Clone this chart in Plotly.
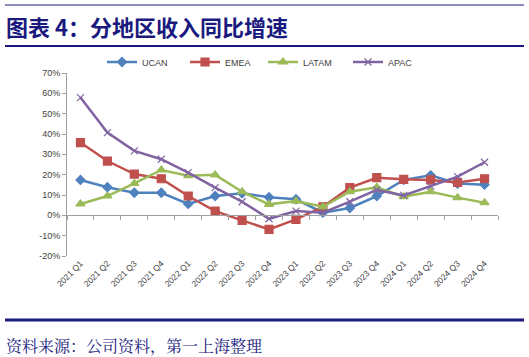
import plotly.graph_objects as go

categories = ["2021 Q1", "2021 Q2", "2021 Q3", "2021 Q4",
              "2022 Q1", "2022 Q2", "2022 Q3", "2022 Q4",
              "2023 Q1", "2023 Q2", "2023 Q3", "2023 Q4",
              "2024 Q1", "2024 Q2", "2024 Q3", "2024 Q4"]
ucan = [17.4, 13.8, 11.1, 11.1, 5.6, 9.5, 10.8, 8.9, 7.9, 1.3, 3.6, 9.5, 17.4, 19.7, 15.6, 15.1]
emea = [35.8, 26.7, 20.3, 18.0, 9.5, 2.1, -2.5, -6.9, -2.0, 4.2, 13.6, 18.5, 17.7, 17.4, 16.2, 18.0]
latam = [5.6, 9.5, 15.7, 22.3, 19.5, 19.9, 11.6, 5.4, 7.0, 4.2, 11.6, 13.8, 9.2, 11.6, 8.7, 6.2]
apac = [57.9, 40.7, 31.7, 27.6, 21.0, 13.6, 6.7, -1.7, 2.1, 1.3, 6.7, 12.5, 9.8, 14.4, 19.0, 26.1]
y_ticks = [-20, -10, 0, 10, 20, 30, 40, 50, 60, 70]
y_tick_text = [f"{v}%" for v in y_ticks]

W, H = 529, 357
L, R, T, B = 67, 498, 73, 256  # plot area in pixels
def px(x): return (x - L) / (R - L)
def py(y): return (B - y) / (B - T)

series = [
    ("UCAN", ucan, "#4F81BD", "diamond", 7, "legend", 102),
    ("EMEA", emea, "#C0504D", "square", 8, "legend2", 185),
    ("LATAM", latam, "#9BBB59", "triangle-up", 8, "legend3", 263),
    ("APAC", apac, "#8064A2", "x-thin", 7, "legend4", 348),
]

fig = go.Figure()
legends = {}
for name, vals, color, sym, size, leg, lx in series:
    fig.add_trace(go.Scatter(
        x=categories, y=vals, name=name, mode="lines+markers", legend=leg,
        line=dict(color=color, width=2.5),
        marker=dict(symbol=sym, size=size, color=color,
                    line=dict(color=color, width=1.2)),
    ))
    legends[leg] = dict(orientation="h", x=px(lx), y=py(62), xanchor="left", yanchor="middle",
                        font=dict(size=9, color="#404040"), itemwidth=30,
                        bgcolor="rgba(0,0,0,0)")

# invisible trace to drive the zero-line axis
fig.add_trace(go.Scatter(x=categories, y=[None]*len(categories), xaxis="x2",
                         showlegend=False, hoverinfo="skip"))

ymin, ymax = -20, 70
zero_pos = (0 - ymin) / (ymax - ymin)

fig.update_layout(
    width=W, height=H,
    margin=dict(l=L, r=W - R, t=T, b=H - B),
    paper_bgcolor="white", plot_bgcolor="white",
    font=dict(family="Liberation Sans, Arial", size=8, color="#404040"),
    showlegend=True,
    xaxis=dict(type="category", showline=False, ticks="", showgrid=False, zeroline=False,
               tickangle=-45, tickfont=dict(size=8.5, color="#404040"), range=[-0.5, 15.5]),
    xaxis2=dict(type="category", overlaying="x", anchor="free", position=zero_pos,
                showline=True, linecolor="#A0A0A0", linewidth=1, ticks="outside",
                ticklen=4, tickcolor="#A0A0A0", tickson="boundaries", showticklabels=False,
                showgrid=False, zeroline=False, range=[-0.5, 15.5]),
    yaxis=dict(range=[ymin, ymax], tickvals=y_ticks, ticktext=y_tick_text,
               showline=True, linecolor="#A0A0A0", linewidth=1, ticks="outside",
               ticklen=4, tickcolor="#A0A0A0", showgrid=False, zeroline=False,
               tickfont=dict(size=9, color="#404040")),
    **legends,
)

navy = "#1A1A7E"
shapes = [
    dict(type="line", xref="paper", yref="paper", x0=px(5), x1=px(524), y0=py(5), y1=py(5),
         line=dict(color=navy, width=1)),
    dict(type="line", xref="paper", yref="paper", x0=px(5), x1=px(524), y0=py(46), y1=py(46),
         line=dict(color=navy, width=2)),
    dict(type="line", xref="paper", yref="paper", x0=px(5), x1=px(524), y0=py(320), y1=py(320),
         line=dict(color=navy, width=3)),
]
fig.update_layout(shapes=shapes)

fig.add_annotation(text="<b>图表 4：分地区收入同比增速</b>", xref="paper", yref="paper",
                   x=px(4), y=py(26), xanchor="left", yanchor="middle", showarrow=False,
                   font=dict(family="Noto Sans CJK SC", size=22, color=navy))
fig.add_annotation(text="资料来源：公司资料，第一上海整理", xref="paper", yref="paper",
                   x=px(4), y=py(345), xanchor="left", yanchor="middle", showarrow=False,
                   font=dict(family="Noto Serif CJK SC, Noto Sans CJK SC", size=16, color=navy))

fig.write_html("out.html", config={"displayModeBar": False},
               post_script="document.body.style.margin='0';document.body.style.overflow='hidden';")
